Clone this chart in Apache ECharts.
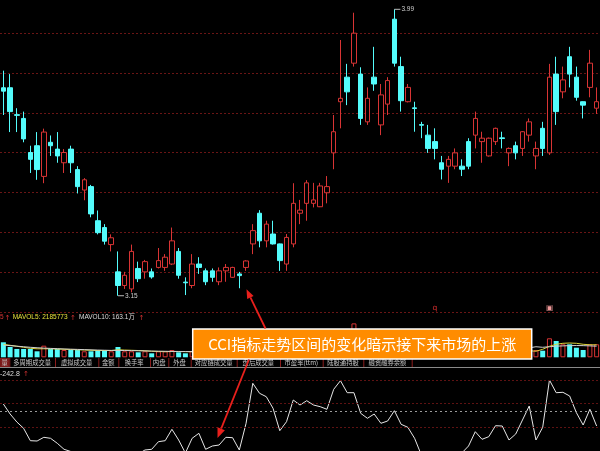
<!DOCTYPE html>
<html><head><meta charset="utf-8">
<script src="https://cdn.jsdelivr.net/npm/echarts/dist/echarts.min.js"></script>
<style>html,body{margin:0;padding:0;background:#000;}#c{width:600px;height:451px;}</style>
</head><body><div id="c"></div>
<script>
// ---- data ----
// [open, close, low, high]
const candles = [
[3.76,3.75,3.68,3.81],[3.76,3.69,3.63,3.80],[3.681,3.679,3.63,3.70],[3.67,3.61,3.60,3.69],
[3.57,3.55,3.51,3.59],[3.59,3.52,3.49,3.63],[3.50,3.63,3.48,3.64],[3.60,3.59,3.56,3.62],
[3.58,3.56,3.54,3.63],[3.54,3.57,3.51,3.58],[3.58,3.54,3.51,3.59],[3.52,3.47,3.45,3.53],
[3.46,3.49,3.43,3.495],[3.47,3.39,3.38,3.475],[3.37,3.335,3.33,3.40],[3.35,3.31,3.30,3.36],
[3.30,3.32,3.28,3.33],[3.22,3.18,3.15,3.28],[3.18,3.21,3.17,3.22],[3.17,3.28,3.16,3.30],
[3.23,3.20,3.19,3.25],[3.22,3.25,3.20,3.255],[3.22,3.205,3.20,3.23],[3.233,3.253,3.23,3.29],
[3.233,3.263,3.223,3.272],[3.243,3.311,3.24,3.35],[3.28,3.21,3.20,3.29],[3.19,3.188,3.152,3.204],
[3.18,3.243,3.172,3.272],[3.243,3.233,3.214,3.263],[3.223,3.191,3.181,3.23],[3.223,3.204,3.191,3.23],
[3.191,3.223,3.181,3.233],[3.223,3.233,3.191,3.243],[3.204,3.233,3.202,3.235],[3.214,3.209,3.172,3.22],
[3.233,3.252,3.223,3.254],[3.302,3.341,3.272,3.36],[3.392,3.311,3.292,3.401],[3.311,3.36,3.292,3.37],
[3.331,3.302,3.30,3.37],[3.302,3.253,3.223,3.303],[3.243,3.321,3.223,3.331],[3.302,3.421,3.292,3.48],
[3.392,3.401,3.36,3.431],[3.421,3.481,3.37,3.489],[3.421,3.431,3.409,3.481],[3.411,3.472,3.41,3.481],
[3.452,3.47,3.421,3.501],[3.569,3.631,3.521,3.68],[3.719,3.729,3.641,3.90],[3.791,3.748,3.709,3.83],
[3.832,3.92,3.822,3.98],[3.80,3.67,3.651,3.82],[3.66,3.729,3.651,3.761],[3.791,3.771,3.751,3.88],
[3.651,3.739,3.621,3.771],[3.712,3.781,3.68,3.791],[3.961,3.832,3.822,3.99],[3.822,3.722,3.69,3.851],
[3.719,3.761,3.717,3.771],[3.701,3.699,3.631,3.719],[3.652,3.650,3.612,3.66],[3.621,3.582,3.569,3.651],
[3.602,3.582,3.55,3.641],[3.54,3.521,3.491,3.56],[3.53,3.55,3.481,3.56],[3.53,3.569,3.521,3.582],
[3.53,3.521,3.501,3.55],[3.602,3.53,3.521,3.612],[3.621,3.67,3.582,3.69],[3.602,3.612,3.54,3.631],
[3.56,3.612,3.558,3.614],[3.602,3.641,3.592,3.643],[3.613,3.611,3.582,3.631],[3.569,3.582,3.53,3.585],
[3.59,3.569,3.55,3.602],[3.582,3.631,3.56,3.633],[3.621,3.66,3.602,3.67],[3.56,3.582,3.521,3.602],
[3.641,3.582,3.56,3.66],[3.569,3.791,3.563,3.83],[3.80,3.69,3.651,3.851],[3.748,3.783,3.729,3.822],
[3.851,3.80,3.761,3.88],[3.791,3.732,3.722,3.822],[3.719,3.709,3.67,3.72],[3.761,3.832,3.732,3.871],
[3.70,3.719,3.683,3.761]
];
// volume in 万
const volumes = [270,185,150,150,150,108,209,150,150,131,131,131,108,108,131,131,108,185,108,108,
90,108,72,108,108,131,90,72,
110,90,95,80,100,85,90,80,95,200,260,190,150,140,170,300,180,250,160,170,160,380,420,380,610,450,330,350,300,260,
420,330,220,200,170,190,160,150,140,150,110,160,200,130,140,150,110,120,110,150,170,
131,119,342,293,234,234,173,131,234,234];
const volMA5 = [234,216,198,180,162,153,153,153,149,144,140,135,131,126,122,122,122,135,130,126,122,117,108,104,101,104,104,101,
100,98,95,92,92,90,88,86,88,110,140,160,170,180,175,190,200,210,210,200,190,240,290,340,440,450,440,410,370,340,
320,300,270,230,200,180,170,160,150,140,140,145,150,150,150,140,130,130,125,130,120,
108,144,198,234,252,257,252,234,225,225];
const volMA10 = [220,210,200,190,180,172,165,160,155,150,146,142,138,134,130,127,124,124,122,120,118,115,112,110,108,106,105,104,
103,101,99,97,95,93,92,91,90,95,105,115,125,135,145,150,160,170,180,185,190,200,215,240,270,300,320,340,350,360,
360,350,330,300,280,260,240,220,200,185,170,160,155,150,150,150,150,150,155,160,170,
190,180,190,200,205,210,212,210,205,200];
const cci = [70,-30,-110,-173,-297,-300,-263,-273,-323,-383,-405,
-430,-470,-520,-560,-580,-560,-600,-520,-470,-430,
-390,-383,-307,-297,-183,-290,-420,-273,-223,-383,-350,-340,-263,-267,-390,-123,277,177,143,27,-197,-107,110,60,103,60,43,17,217,303,183,183,-23,-73,-30,-123,-100,3,-133,-163,-273,-440,
-520,-560,-600,-560,-500,
-420,-350,-207,-283,-257,-147,-150,-290,-230,-90,50,-290,-163,310,183,187,150,-17,-140,17,-150];
const cciLevels = [310, 80, -160];
const cciZero = 0;
const days = candles.map((_, i) => String(i + 1));
const volLegend = ['MAVOL5: 2185773', 'MAVOL10: 163.1万'];
const cciText = '-242.8';
const tabLabels = ['量','多周期成交量','虚拟成交量','金额','换手率','内盘','外盘','对应链成交量','盘后成交量','市盈率(ttm)','陆股通持股','融资融券余额'];
const events = [{day: 64, text: 'q', color: '#e03030'}, {day: 81, text: '▣', color: '#f29a9a'}];
const noteText = 'CCI指标走势区间的变化暗示接下来市场的上涨';

// ---- styling / layout ----
const RED = '#d83434', CYAN = '#54fcfc';
const PRICE_MIN = 3.1029, PRICE_MAX = 4.0173;
const tabEdges = [0, 9.3, 55, 98.3, 118.3, 150, 168.3, 190.7, 236.7, 280, 322.7, 363.3, 411.7];

let hiIdx = 0, loIdx = 0;
candles.forEach((c, i) => { if (c[3] > candles[hiIdx][3]) hiIdx = i; if (c[2] < candles[loIdx][2]) loIdx = i; });

const volData = volumes.map((v, i) => {
  const up = candles[i][1] >= candles[i][0];
  return up ? {value: v, itemStyle: {color: '#000', borderColor: RED, borderWidth: 1}}
            : {value: v, itemStyle: {color: CYAN}};
});

const smallFont = '6.5px "Liberation Sans"';
const arrowFont = '7px "DejaVu Sans"';
const graphics = [
  {type:'text', x:0, y:317.7, style:{text:'5', fill:RED, font:smallFont, verticalAlign:'middle'}},
  {type:'text', x:4.5, y:317.7, style:{text:'↑', fill:RED, font:arrowFont, verticalAlign:'middle'}},
  {type:'text', x:12.7, y:317.7, style:{text:volLegend[0], fill:'#e6e23a', font:smallFont, verticalAlign:'middle'}},
  {type:'text', x:70, y:317.7, style:{text:'↑', fill:RED, font:arrowFont, verticalAlign:'middle'}},
  {type:'text', x:79, y:317.7, style:{text:volLegend[1], fill:'#dcdcdc', font:'6.5px "Liberation Sans","Noto Sans CJK SC"', verticalAlign:'middle'}},
  {type:'text', x:138.5, y:317.7, style:{text:'↑', fill:RED, font:arrowFont, verticalAlign:'middle'}},
  {type:'text', x:0, y:374.5, style:{text:cciText, fill:'#dddddd', font:'7px "Liberation Sans"', verticalAlign:'middle'}},
  {type:'text', x:23, y:374.5, style:{text:'↑', fill:RED, font:arrowFont, verticalAlign:'middle'}},
  {type:'line', shape:{x1:0, y1:367.5, x2:600, y2:367.5}, style:{stroke:'#8a8a8a', lineWidth:1}},
  {type:'rect', shape:{x:0, y:358, width:9.3, height:9}, style:{fill:'#7a1818'}}
];
tabLabels.forEach((t, k) => {
  const x0 = tabEdges[k], x1 = tabEdges[k + 1];
  graphics.push({type:'text', x:(x0 + x1) / 2, y:362.8, style:{text:t, fill:'#c8c8c8', font:'6.3px "Noto Sans CJK SC"', align:'center', verticalAlign:'middle'}});
  graphics.push({type:'line', shape:{x1:x1 + 0.5, y1:358, x2:x1 + 0.5, y2:367}, style:{stroke:'#8b1c1c', lineWidth:1}});
});
graphics.push(
  {type:'rect', z:100, shape:{x:192.7, y:329, width:339, height:30}, style:{fill:'#ff8c00', stroke:'#ffffff', lineWidth:1.5}},
  {type:'text', z:101, x:362.2, y:344.2, style:{text:noteText, fill:'#ffffff', font:'15px "Noto Sans CJK SC"', align:'center', verticalAlign:'middle'}},
  {type:'line', z:102, shape:{x1:265.5, y1:328.5, x2:250.4, y2:297.4}, style:{stroke:'#e8201c', lineWidth:1.8}},
  {type:'polygon', z:102, shape:{points:[[246.5,289.3],[247.2,298.9],[253.6,295.9]]}, style:{fill:'#e8201c'}},
  {type:'line', z:102, shape:{x1:249, y1:359.5, x2:221.2, y2:428.7}, style:{stroke:'#e8201c', lineWidth:1.8}},
  {type:'polygon', z:102, shape:{points:[[217.5,438],[224.9,430.2],[217.5,427.2]]}, style:{fill:'#e8201c'}}
);

const hidden = {axisLine:{show:false}, axisTick:{show:false}, axisLabel:{show:false}, splitLine:{show:false}};
const option = {
  backgroundColor: '#000',
  animation: false,
  grid: [
    {left:0, right:0, top:0, height:311.8},
    {left:0, right:0, top:322, height:35.3},
    {left:0, right:0, top:371, height:80},
    {left:0, right:0, top:33.3, height:278.5}
  ],
  xAxis: [0, 1, 2, 3].map(g => Object.assign({type:'category', gridIndex:g, data:days, boundaryGap:true}, hidden)),
  yAxis: [
    Object.assign({type:'value', gridIndex:0, min:PRICE_MIN, max:PRICE_MAX, scale:true}, hidden),
    {type:'value', gridIndex:3, min:0, max:7, interval:1, axisLine:{show:false}, axisTick:{show:false}, axisLabel:{show:false},
     splitLine:{show:true, lineStyle:{color:'#6a1515', type:[2,2], width:1}}},
    Object.assign({type:'value', gridIndex:1, min:0, max:635}, hidden),
    Object.assign({type:'value', gridIndex:2, min:-400, max:400}, hidden)
  ],
  graphic: graphics,
  series: [
    {type:'candlestick', xAxisIndex:0, yAxisIndex:0, data:candles, barWidth:5, z:3,
     itemStyle:{color:'#000', color0:CYAN, borderColor:RED, borderColor0:CYAN, borderWidth:1},
     markPoint:{
       symbol:'rect', symbolSize:[6,1], symbolOffset:[3,0], itemStyle:{color:'#bdbdbd'},
       label:{show:true, position:'right', distance:1, fontSize:6.5, color:'#cfcfcf', fontFamily:'Liberation Sans', formatter:'{c}'},
       data:[
         {coord:[days[hiIdx], candles[hiIdx][3]], value:candles[hiIdx][3].toFixed(2)},
         {coord:[days[loIdx], candles[loIdx][2]], value:candles[loIdx][2].toFixed(2)}
       ].concat(events.map(e => ({coord:[days[e.day], PRICE_MIN + 0.011], value:e.text, symbol:'rect', symbolSize:1, symbolOffset:[0,0],
          itemStyle:{color:'rgba(0,0,0,0)'}, label:{show:true, position:'inside', formatter:e.text, color:e.color, fontSize:7.5, fontFamily:'DejaVu Sans'}})))
     }},
    {type:'bar', xAxisIndex:1, yAxisIndex:2, data:volData, barWidth:5},
    {type:'line', xAxisIndex:1, yAxisIndex:2, data:volMA5, symbol:'none', lineStyle:{color:'#d8d23a', width:1}},
    {type:'line', xAxisIndex:1, yAxisIndex:2, data:volMA10, symbol:'none', lineStyle:{color:'#cfcfcf', width:1}},
    {type:'line', xAxisIndex:2, yAxisIndex:3, data:cci, symbol:'none', lineStyle:{color:'#e6e6e6', width:1},
     markLine:{silent:true, symbol:['none','none'], label:{show:false},
       data: cciLevels.map(v => ({yAxis:v, lineStyle:{color:'#5e1212', type:[2,2], width:1}}))
         .concat([{yAxis:cciZero, lineStyle:{color:'#9a9a9a', type:[2,3], width:1}}])}}
  ]
};
const chart = echarts.init(document.getElementById('c'), null, {renderer:'canvas'});
chart.setOption(option);
</script></body></html>
